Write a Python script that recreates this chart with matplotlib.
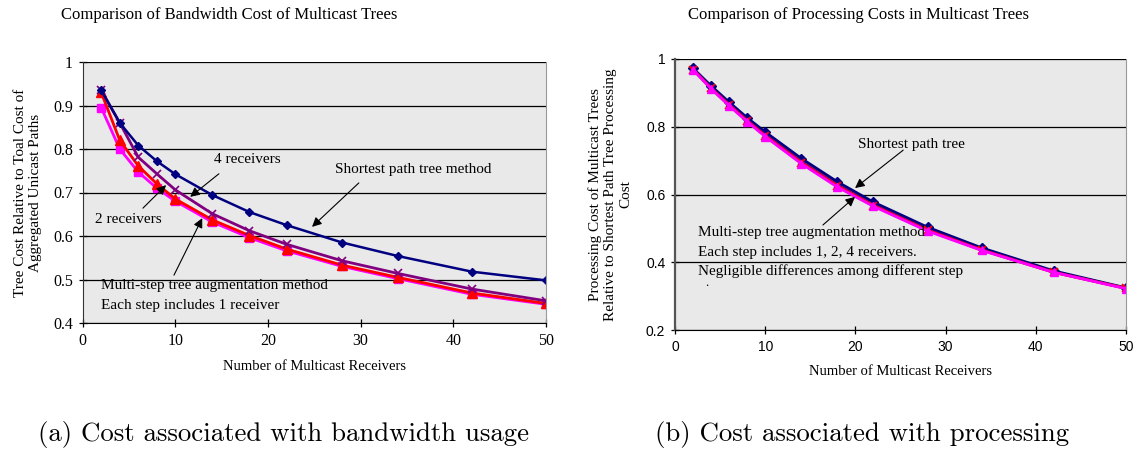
import matplotlib
matplotlib.use("Agg")
import matplotlib.pyplot as plt

# receivers on the x axis (same for every series)
receivers = [2, 4, 6, 8, 10, 14, 18, 22, 28, 34, 42, 50]

# (a) bandwidth cost
bw_shortest = [0.935, 0.860, 0.808, 0.772, 0.742, 0.694, 0.655, 0.625, 0.585, 0.554, 0.518, 0.498]
bw_step4 = [0.935, 0.860, 0.781, 0.743, 0.706, 0.651, 0.612, 0.581, 0.543, 0.514, 0.478, 0.451]
bw_step2 = [0.930, 0.820, 0.761, 0.720, 0.685, 0.637, 0.601, 0.570, 0.533, 0.505, 0.469, 0.445]
bw_step1 = [0.895, 0.800, 0.747, 0.710, 0.680, 0.632, 0.596, 0.566, 0.530, 0.502, 0.466, 0.443]

# (b) processing cost
pc_shortest = [0.972, 0.920, 0.872, 0.826, 0.784, 0.706, 0.637, 0.577, 0.503, 0.442, 0.374, 0.324]
pc_step4 = [0.970, 0.915, 0.866, 0.819, 0.776, 0.697, 0.628, 0.569, 0.496, 0.437, 0.371, 0.323]
pc_step2 = [0.969, 0.913, 0.864, 0.817, 0.773, 0.694, 0.625, 0.567, 0.494, 0.436, 0.370, 0.323]
pc_step1 = [0.968, 0.912, 0.862, 0.815, 0.771, 0.691, 0.622, 0.565, 0.492, 0.435, 0.370, 0.322]

serif = "Liberation Serif"
sans = "Liberation Sans"
bg = "#e9e9e9"

W, H = 1140, 451
fig = plt.figure(figsize=(W / 100, H / 100), dpi=100)


def px_axes(l, t, r, b):
    return fig.add_axes([l / W, 1 - b / H, (r - l) / W, (b - t) / H])


def style(ax, tickfont):
    ax.set_facecolor(bg)
    ax.set_xlim(0, 50)
    ax.set_xticks(range(0, 51, 10))
    ax.yaxis.grid(True, color="black", lw=0.9)
    ax.set_axisbelow(True)
    ax.spines["top"].set_visible(False)
    ax.spines["right"].set_color("#999999")
    ax.spines["left"].set_color("#333333")
    ax.tick_params(direction="inout", length=6, width=0.9, labelsize=11, pad=4)
    for lab in ax.get_xticklabels() + ax.get_yticklabels():
        lab.set_family(tickfont)
    ax.set_xlabel("Number of Multicast Receivers", family=serif, fontsize=10.5, labelpad=8)


def arrow(ax, start, tip):
    ax.annotate("", xy=tip, xytext=start,
                arrowprops=dict(arrowstyle="-|>", color="black", lw=0.8,
                                mutation_scale=14, shrinkA=0, shrinkB=0))


# ---------- (a) ----------
ax1 = px_axes(82.7, 62, 546, 323)
ax1.set_ylim(0.4, 1.0)
ax1.set_yticks([0.4, 0.5, 0.6, 0.7, 0.8, 0.9, 1.0])
ax1.set_yticklabels(["0.4", "0.5", "0.6", "0.7", "0.8", "0.9", "1"])
style(ax1, serif)
ax1.tick_params(labelsize=11.5)

ax1.plot(receivers, bw_step1, color="#ff00ff", lw=2, marker="s", ms=6)
ax1.plot(receivers, bw_step2, color="#ff0000", lw=2, marker="^", ms=7)
ax1.plot(receivers, bw_step4, color="#800080", lw=2, marker="x", ms=6, mew=1.2)
ax1.plot(receivers, bw_shortest, color="#000080", lw=1.8, marker="D", ms=4.5)

ax1.set_ylabel("Tree Cost Relative to Toal Cost of\nAggregated Unicast Paths",
               family=serif, fontsize=11, labelpad=8)

ax1.text(17.8, 0.775, "4 receivers", family=serif, fontsize=11, ha="center", va="center")
arrow(ax1, (14.7, 0.743), (11.6, 0.690))
ax1.text(1.3, 0.637, "2 receivers", family=serif, fontsize=11, ha="left", va="center")
arrow(ax1, (6.5, 0.664), (9.0, 0.717))
ax1.text(27.2, 0.754, "Shortest path tree method", family=serif, fontsize=11,
         ha="left", va="center")
arrow(ax1, (29.8, 0.722), (24.75, 0.621))
ax1.text(2.0, 0.487, "Multi-step tree augmentation method", family=serif, fontsize=11,
         ha="left", va="center")
ax1.text(2.0, 0.441, "Each step includes 1 receiver", family=serif, fontsize=11,
         ha="left", va="center")
arrow(ax1, (9.85, 0.510), (12.9, 0.641))

# ---------- (b) ----------
ax2 = px_axes(675, 59, 1126, 330)
ax2.set_ylim(0.2, 1.0)
ax2.set_yticks([0.2, 0.4, 0.6, 0.8, 1.0])
ax2.set_yticklabels(["0.2", "0.4", "0.6", "0.8", "1"])
style(ax2, sans)
ax2.tick_params(labelsize=10)
ax2.spines["left"].set_linewidth(1.6)
ax2.spines["left"].set_color("#555555")

ax2.plot(receivers, pc_shortest, color="#000080", lw=2.2, marker="D", ms=5)
ax2.plot(receivers, pc_step4, color="#800080", lw=2, marker="x", ms=5, mew=1.2)
ax2.plot(receivers, pc_step2, color="#ff0000", lw=2, marker="x", ms=6, mew=1.2)
ax2.plot(receivers, pc_step1, color="#ff00ff", lw=2, marker="^", ms=6)

ax2.set_ylabel("Processing Cost of Multicast Trees\nRelative to Shortest Path Tree Processing\nCost",
               family=serif, fontsize=11, labelpad=10)

ax2.text(20.3, 0.749, "Shortest path tree", family=serif, fontsize=11, ha="left", va="center")
arrow(ax2, (25.3, 0.731), (19.96, 0.619))
for y, s in [(0.489, "Multi-step tree augmentation method"),
             (0.430, "Each step includes 1, 2, 4 receivers."),
             (0.374, "Negligible differences among different step")]:
    ax2.text(2.55, y, s, family=serif, fontsize=11, ha="left", va="center")
ax2.text(3.3, 0.338, ".", family=serif, fontsize=9, ha="left", va="center")
arrow(ax2, (16.4, 0.510), (19.96, 0.593))

# chart titles
fig.text(229 / W, 1 - 15 / H, "Comparison of Bandwidth Cost of Multicast Trees",
         family=serif, fontsize=12, ha="center", va="center")
fig.text(858 / W, 1 - 15 / H, "Comparison of Processing Costs in Multicast Trees",
         family=serif, fontsize=12, ha="center", va="center")

# subfigure captions
fig.text(284 / W, 1 - 435 / H, "(a) Cost associated with bandwidth usage",
         family="cmr10", fontsize=19.3, ha="center", va="center")
fig.text(862 / W, 1 - 435 / H, "(b) Cost associated with processing",
         family="cmr10", fontsize=19.3, ha="center", va="center")

fig.savefig("out.png", dpi=100, facecolor="white")
